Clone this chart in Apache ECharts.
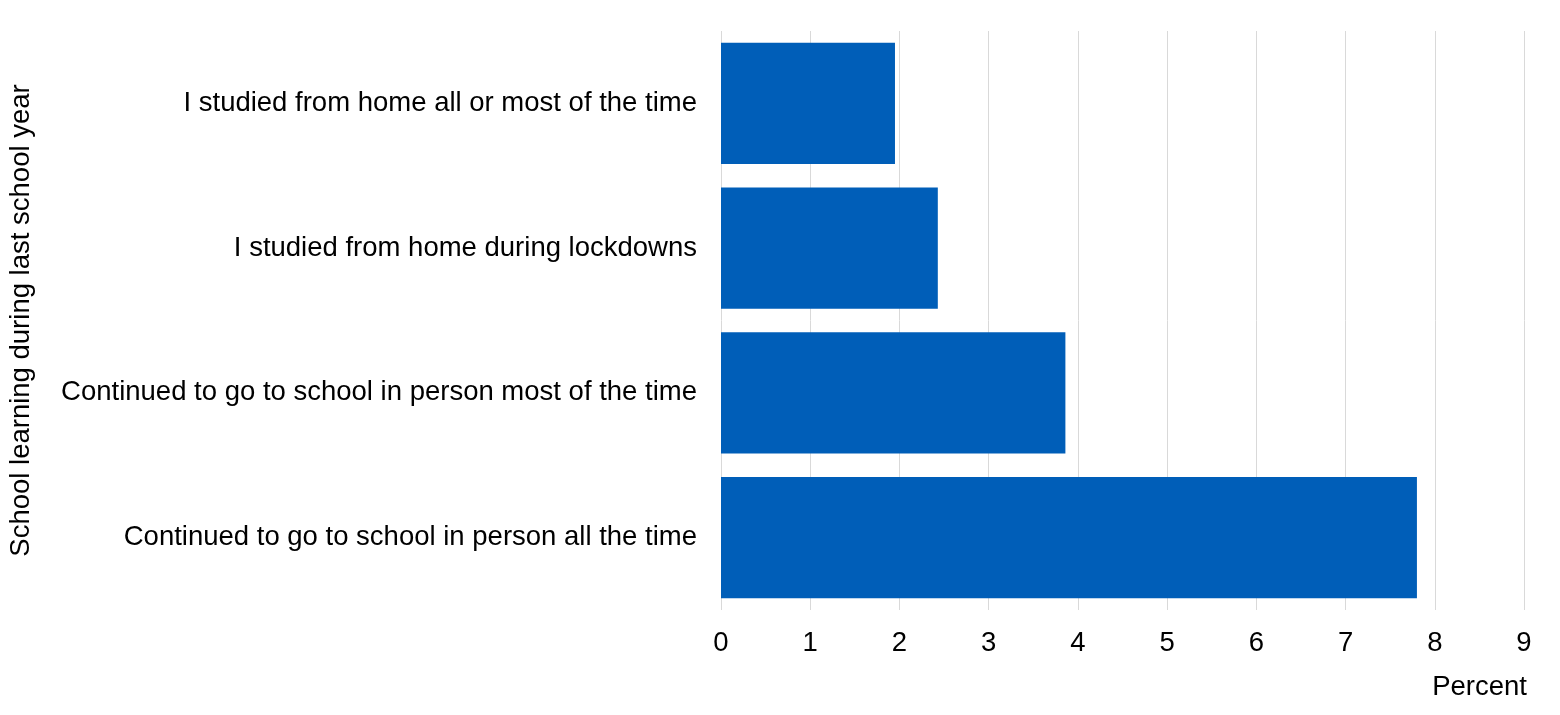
<!DOCTYPE html>
<html>
<head>
<meta charset="utf-8">
<script src="https://cdn.jsdelivr.net/npm/echarts@6/dist/echarts.min.js"></script>
<style>html,body{margin:0;padding:0;background:#fff}#c{width:1560px;height:715px}</style>
</head>
<body>
<div id="c"></div>
<script>
var categories = [
  "I studied from home all or most of the time",
  "I studied from home during lockdowns",
  "Continued to go to school in person most of the time",
  "Continued to go to school in person all the time"
];
var values = [1.95, 2.43, 3.86, 7.8];
var xTicks = { min: 0, max: 9, interval: 1 };
var xName = "Percent";
var yName = "School learning during last school year";

var chart = echarts.init(document.getElementById('c'));
var font = "'Liberation Sans', Arial, sans-serif";
var fs = 27.5;
chart.setOption({
  animation: false,
  textStyle: { fontFamily: font },
  grid: { left: 721, right: 36, top: 31, bottom: 105, containLabel: false, outerBoundsMode: 'none' },
  xAxis: {
    type: 'value',
    min: xTicks.min, max: xTicks.max, interval: xTicks.interval,
    name: xName,
    nameLocation: 'end',
    nameGap: 0,
    nameTextStyle: { fontSize: fs, color: '#000', fontFamily: font, align: 'right', verticalAlign: 'top', padding: [63, -3, 0, 0] },
    axisLine: { show: false },
    axisTick: { show: false },
    axisLabel: { fontSize: fs, color: '#000', fontFamily: font, margin: 19 },
    splitLine: { show: true, lineStyle: { color: '#d9d9d9', width: 1 } }
  },
  yAxis: {
    type: 'category',
    data: categories,
    inverse: true,
    name: yName,
    nameLocation: 'middle',
    nameGap: 686,
    nameRotate: 90,
    nameTextStyle: { fontSize: fs, color: '#000', fontFamily: font },
    axisLine: { show: false },
    axisTick: { show: false },
    axisLabel: { fontSize: fs, color: '#000', fontFamily: font, margin: 24 },
    splitLine: { show: false }
  },
  series: [{
    type: 'bar',
    data: values,
    barCategoryGap: '16.4%',
    itemStyle: { color: '#005EB8' }
  }]
});
</script>
</body>
</html>
